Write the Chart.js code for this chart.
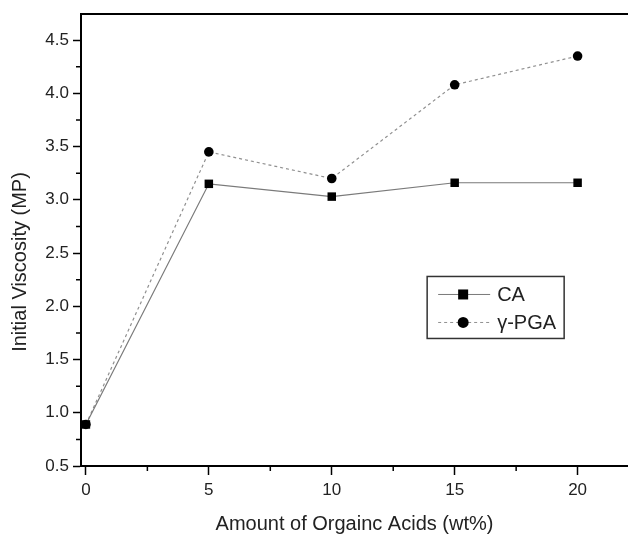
<!DOCTYPE html>
<html>
<head>
<meta charset="utf-8">
<script src="https://cdn.jsdelivr.net/npm/chart.js@4/dist/chart.umd.min.js"></script>
<style>
  html, body { margin: 0; padding: 0; background: #fff; overflow: hidden; }
</style>
</head>
<body>
<canvas id="viscChart" width="628" height="536"></canvas>
<script>
// Dữ liệu
const acidAmounts = [0, 5, 10, 15, 20];
const caViscosity = [0.89, 3.15, 3.03, 3.16, 3.16];
const pgaViscosity = [0.89, 3.45, 3.20, 4.08, 4.35];
const xTickValues = [0, 5, 10, 15, 20];
const xMinorTicks = [2.5, 7.5, 12.5, 17.5];
const yTickValues = [0.5, 1.0, 1.5, 2.0, 2.5, 3.0, 3.5, 4.0, 4.5];
const yMinorTicks = [0.75, 1.25, 1.75, 2.25, 2.75, 3.25, 3.75, 4.25];

const FONT = '"Liberation Sans", Arial, sans-serif';

// khung trên, vạch phụ, chú thích, tên trục y
const framePlugin = {
  id: "frame",
  afterDraw(chart) {
    const { ctx, chartArea: a, scales } = chart;
    ctx.save();
    // đường khung trên
    ctx.strokeStyle = "#000";
    ctx.lineWidth = 2;
    ctx.beginPath();
    ctx.moveTo(a.left - 1, a.top);
    ctx.lineTo(chart.width, a.top);
    ctx.stroke();

    // vạch phụ
    ctx.lineWidth = 1.5;
    ctx.beginPath();
    xMinorTicks.forEach((v) => {
      const px = scales.x.getPixelForValue(v);
      ctx.moveTo(px, a.bottom);
      ctx.lineTo(px, a.bottom + 5);
    });
    yMinorTicks.forEach((v) => {
      const py = scales.y.getPixelForValue(v);
      ctx.moveTo(a.left, py);
      ctx.lineTo(a.left - 5, py);
    });
    ctx.stroke();

    // tên trục y
    ctx.fillStyle = "#222";
    ctx.font = "20px " + FONT;
    ctx.textAlign = "center";
    ctx.textBaseline = "middle";
    ctx.translate(a.left - 61, (a.top + a.bottom) / 2 + 22);
    ctx.rotate(-Math.PI / 2);
    ctx.fillText("Initial Viscosity (MP)", 0, 0);
    ctx.restore();

    // chú thích
    ctx.save();
    const bx = scales.x.getPixelForValue(13.88);
    const by = scales.y.getPixelForValue(2.28);
    const bw = 137, bh = 62;
    ctx.strokeStyle = "#333";
    ctx.lineWidth = 1.5;
    ctx.strokeRect(bx, by, bw, bh);
    chart.data.datasets.forEach((ds, i) => {
      const ry = by + 18 + i * 28;
      ctx.strokeStyle = ds.borderColor;
      ctx.lineWidth = 1;
      ctx.setLineDash(ds.borderDash || []);
      ctx.beginPath();
      ctx.moveTo(bx + 11, ry);
      ctx.lineTo(bx + 63, ry);
      ctx.stroke();
      ctx.setLineDash([]);
      ctx.fillStyle = "#000";
      const cx = bx + 36;
      if (ds.pointStyle === "rect") {
        ctx.fillRect(cx - 5, ry - 5, 10, 10);
      } else {
        ctx.beginPath();
        ctx.arc(cx, ry, 5.5, 0, Math.PI * 2);
        ctx.fill();
      }
      ctx.fillStyle = "#222";
      ctx.font = "20px " + FONT;
      ctx.textAlign = "left";
      ctx.textBaseline = "middle";
      ctx.fillText(ds.label, bx + 70, ry + 1);
    });
    ctx.restore();
  },
};

const ctx = document.getElementById("viscChart").getContext("2d");
new Chart(ctx, {
  type: "line",
  data: {
    labels: acidAmounts,
    datasets: [
      {
        label: "CA",
        data: acidAmounts.map((x, i) => ({ x: x, y: caViscosity[i] })),
        borderColor: "#7a7a7a",
        borderWidth: 1.2,
        pointStyle: "rect",
        pointRadius: 6,
        pointBackgroundColor: "#000",
        pointBorderWidth: 0,
        tension: 0,
      },
      {
        label: "γ-PGA",
        data: acidAmounts.map((x, i) => ({ x: x, y: pgaViscosity[i] })),
        borderColor: "#909090",
        borderWidth: 1.2,
        borderDash: [3, 3],
        pointStyle: "circle",
        pointRadius: 4.8,
        pointBackgroundColor: "#000",
        pointBorderWidth: 0,
        tension: 0,
      },
    ],
  },
  options: {
    responsive: false,
    animation: false,
    layout: { autoPadding: false, padding: { top: 14, right: 0, left: 0, bottom: 0 } },
    plugins: {
      legend: { display: false },
      tooltip: { enabled: false },
    },
    scales: {
      x: {
        type: "linear",
        min: -0.2,
        max: 22.05,
        afterBuildTicks: (s) => { s.ticks = xTickValues.map((v) => ({ value: v })); },
        afterFit: (s) => { s.height = 70; s.paddingLeft = 0; s.paddingRight = 0; },
        border: { display: true, color: "#000", width: 2 },
        grid: { drawOnChartArea: false, tickLength: 9, tickColor: "#000", tickWidth: 1.5 },
        ticks: { color: "#222", font: { size: 17, family: FONT }, padding: 5, maxRotation: 0 },
        title: {
          display: true,
          text: "Amount of Orgainc Acids (wt%)",
          color: "#222",
          font: { size: 20, family: FONT },
          padding: { top: 0, bottom: 0 },
        },
      },
      y: {
        min: 0.5,
        max: 4.745,
        afterBuildTicks: (s) => { s.ticks = yTickValues.map((v) => ({ value: v })); },
        afterFit: (s) => { s.width = 81; s.paddingTop = 0; s.paddingBottom = 0; },
        border: { display: true, color: "#000", width: 2 },
        grid: { drawOnChartArea: false, tickLength: 8, tickColor: "#000", tickWidth: 1.5 },
        ticks: {
          color: "#222",
          font: { size: 17, family: FONT },
          padding: 4,
          callback: (v) => Number(v).toFixed(1),
        },
      },
    },
  },
  plugins: [framePlugin],
});
</script>
</body>
</html>
